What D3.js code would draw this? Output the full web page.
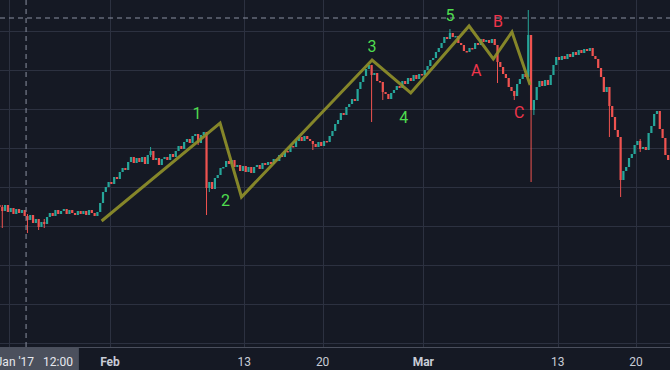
<!DOCTYPE html>
<html>
<head>
<meta charset="utf-8">
<script src="https://d3js.org/d3.v7.min.js"></script>
<style>
  html, body { margin: 0; padding: 0; background: #151924; overflow: hidden; }
  svg { display: block; }
</style>
</head>
<body>
<svg id="chart"></svg>
<script>
// 6h candles starting 22 Jan 2017 00:00 UTC, each open = previous close
const startTime = Date.UTC(2017, 0, 22);
const candleHours = 6;
const firstOpen = 1145;
const closes = [
  1143, 1139, 1145, 1138, 1142, 1136, 1141, 1137, 1140, 1134,
  1130, 1135, 1127, 1131, 1123, 1128, 1126, 1133, 1137, 1134,
  1140, 1136, 1139, 1141, 1136, 1140, 1137, 1135, 1139, 1136,
  1139, 1135, 1140, 1137, 1134, 1138, 1147, 1158, 1163, 1168,
  1166, 1173, 1171, 1178, 1182, 1180, 1188, 1193, 1187, 1192,
  1188, 1193, 1186, 1195, 1199, 1190, 1192, 1185, 1191, 1193,
  1190, 1196, 1193, 1199, 1204, 1201, 1208, 1211, 1207, 1214,
  1216, 1207, 1215, 1218, 1162, 1168, 1161, 1172, 1175, 1182,
  1183, 1189, 1186, 1190, 1183, 1185, 1179, 1184, 1178, 1183,
  1177, 1183, 1185, 1181, 1187, 1185, 1188, 1186, 1191, 1189,
  1195, 1193, 1199, 1198, 1204, 1203, 1209, 1213, 1209, 1214,
  1211, 1209, 1206, 1203, 1208, 1204, 1209, 1208, 1214, 1219,
  1226, 1230, 1237, 1235, 1243, 1246, 1251, 1249, 1261, 1268,
  1274, 1281, 1285, 1275, 1277, 1269, 1268, 1258, 1256, 1251,
  1257, 1260, 1264, 1262, 1269, 1266, 1272, 1269, 1275, 1271,
  1276, 1275, 1280, 1284, 1290, 1292, 1298, 1302, 1307, 1313,
  1311, 1317, 1313, 1314, 1307, 1305, 1299, 1298, 1302, 1301,
  1307, 1305, 1311, 1308, 1310, 1307, 1311, 1305, 1288, 1283,
  1276, 1272, 1263, 1259, 1254, 1266, 1271, 1276, 1273, 1315,
  1240, 1250, 1263, 1269, 1264, 1270, 1265, 1275, 1285, 1293,
  1290, 1294, 1291, 1296, 1293, 1298, 1295, 1300, 1297, 1301,
  1299, 1302, 1294, 1291, 1282, 1273, 1258, 1263, 1244, 1233,
  1220, 1213, 1170, 1179, 1183, 1192, 1196, 1205, 1209, 1201,
  1203, 1200, 1217, 1224, 1236, 1239, 1221, 1212, 1195, 1190
];

// candles with visible wicks (index, high, low)
const wickIndex = [1, 10, 14, 16, 54, 71, 74, 75, 112, 133, 137, 161, 178, 184, 189, 190, 191, 218, 222, 229];
const wickHigh  = [1145, 1136, 1131, 1131, 1203, 1216, 1218, 1168, 1209, 1285, 1268, 1321, 1305, 1259, 1340, 1315, 1250, 1263, 1213, 1211];
const wickLow   = [1122, 1117, 1120, 1122, 1193, 1205, 1135, 1158, 1200, 1228, 1250, 1313, 1267, 1250, 1273, 1168, 1235, 1213, 1153, 1198];

// Elliott wave points
const waveDates  = ["2017-01-31T06:00Z", "2017-02-10T20:00Z", "2017-02-12T18:00Z", "2017-02-24T10:00Z",
                    "2017-02-27T21:00Z", "2017-03-05T02:00Z", "2017-03-07T06:00Z", "2017-03-08T22:00Z",
                    "2017-03-10T13:00Z"];
const wavePrices = [1129, 1227, 1153, 1290, 1257, 1324, 1291, 1318, 1265];
const waveLabels = ["", "1", "2", "3", "4", "5", "A", "B", "C"];

// axis
const gridPrices = [1319, 1280, 1241, 1202, 1163, 1124, 1085, 1046, 1007];
const tickDates  = ["2017-01-23", "2017-02-01", "2017-02-13", "2017-02-20", "2017-03-01", "2017-03-13", "2017-03-20"];
const tickLabels = ["23", "Feb", "13", "20", "Mar", "13", "20"];

const crosshairDate = "2017-01-24T12:00Z";
const crosshairPrice = 1332;
const crosshairText = "24 Jan '17   12:00";

// label placement relative to wave point (px)
const labelOffsets = [[0, 0], [-23, -10], [-16, 3], [0, -14], [-7, 24], [-19, -11], [-17, 11], [-14, -11], [-11, 27]];

const width = 670, height = 370, plotBottom = 347;
const upColor = "#26a69a", downColor = "#ef5350";
const font = "Roboto, 'Noto Sans', sans-serif";

const svg = d3.select("#chart").attr("width", width).attr("height", height);
svg.append("rect").attr("width", width).attr("height", height).attr("fill", "#151924");

const x = d3.scaleUtc()
  .domain([new Date("2017-02-01T00:00Z"), new Date("2017-03-20T00:00Z")])
  .range([110, 636]);
const y = d3.scaleLinear().domain([1003, 1350]).range([plotBottom, 0]);

// build candles
const hour = 3600 * 1000;
const candles = closes.map((c, i) => {
  const o = i === 0 ? firstOpen : closes[i - 1];
  const t = startTime + i * candleHours * hour;
  const w = wickIndex.indexOf(i);
  return {
    t: new Date(t + candleHours * hour / 2),
    o: o, c: c,
    h: w >= 0 ? wickHigh[w] : Math.max(o, c),
    l: w >= 0 ? wickLow[w] : Math.min(o, c)
  };
});

// grid
const grid = svg.append("g");
grid.selectAll(".hgrid").data(gridPrices).enter().append("line")
  .attr("x1", 0).attr("x2", width)
  .attr("y1", d => Math.round(y(d)) + 0.5).attr("y2", d => Math.round(y(d)) + 0.5)
  .attr("stroke", "#2c3140").attr("stroke-width", 1);
grid.selectAll(".vgrid").data(tickDates).enter().append("line")
  .attr("x1", d => Math.round(x(new Date(d + "T00:00Z"))) + 0.5)
  .attr("x2", d => Math.round(x(new Date(d + "T00:00Z"))) + 0.5)
  .attr("y1", 0).attr("y2", plotBottom)
  .attr("stroke", "#2c3140").attr("stroke-width", 1);

// crosshair horizontal
svg.append("line")
  .attr("x1", 0).attr("x2", width)
  .attr("y1", y(crosshairPrice)).attr("y2", y(crosshairPrice))
  .attr("stroke", "#8a90a0").attr("stroke-dasharray", "5,4").attr("stroke-width", 1);

// candles
const bodyW = 2.2;
const cg = svg.append("g");
cg.selectAll(".wick").data(candles).enter().append("line")
  .attr("x1", d => x(d.t)).attr("x2", d => x(d.t))
  .attr("y1", d => y(d.h)).attr("y2", d => y(d.l))
  .attr("stroke", d => d.c >= d.o ? upColor : downColor)
  .attr("stroke-width", 1);
cg.selectAll(".body").data(candles).enter().append("rect")
  .attr("x", d => x(d.t) - bodyW / 2)
  .attr("width", bodyW)
  .attr("y", d => y(Math.max(d.o, d.c)))
  .attr("height", d => Math.max(1.5, Math.abs(y(d.o) - y(d.c))))
  .attr("fill", d => d.c >= d.o ? upColor : downColor);

// Elliott wave
const wave = waveDates.map((d, i) => ({ t: new Date(d), p: wavePrices[i], label: waveLabels[i], off: labelOffsets[i] }));
svg.append("path")
  .datum(wave)
  .attr("fill", "none")
  .attr("stroke", "#8f8f2a")
  .attr("stroke-opacity", 0.92)
  .attr("stroke-width", 3)
  .attr("d", d3.line().x(d => x(d.t)).y(d => y(d.p)));

svg.selectAll(".wlabel").data(wave.filter(d => d.label)).enter().append("text")
  .attr("x", d => x(d.t) + d.off[0])
  .attr("y", d => y(d.p) + d.off[1])
  .attr("text-anchor", "middle")
  .attr("dominant-baseline", "central")
  .attr("font-family", font)
  .attr("font-size", 16)
  .attr("fill", d => /[0-9]/.test(d.label) ? "#4fdc4f" : "#f0354b")
  .text(d => d.label);

// crosshair vertical
const cx = x(new Date(crosshairDate));
svg.append("line")
  .attr("x1", cx).attr("x2", cx)
  .attr("y1", 0).attr("y2", plotBottom)
  .attr("stroke", "#8a90a0").attr("stroke-dasharray", "5,4").attr("stroke-width", 1);

// time axis
svg.append("line")
  .attr("x1", 0).attr("x2", width).attr("y1", plotBottom + 0.5).attr("y2", plotBottom + 0.5)
  .attr("stroke", "#4a4f5d");

// crosshair time label, measured first so ticks underneath can be hidden
const lab = svg.append("g");
const labText = lab.append("text")
  .attr("x", cx).attr("y", 362)
  .attr("text-anchor", "middle")
  .attr("dominant-baseline", "central")
  .attr("font-family", font)
  .attr("font-size", 12)
  .attr("fill", "#e6e8ee")
  .style("white-space", "pre")
  .text(crosshairText);
const tw = labText.node().getComputedTextLength();
const boxL = cx - tw / 2 - 6, boxR = cx + tw / 2 + 6;
lab.insert("rect", "text")
  .attr("x", boxL).attr("y", plotBottom + 1)
  .attr("width", boxR - boxL).attr("height", height - plotBottom - 1)
  .attr("fill", "#4b505d");

const ticks = tickDates.map((d, i) => ({ x: x(new Date(d + "T00:00Z")), label: tickLabels[i] }))
  .filter(d => d.x > boxR + 12);
svg.insert("g", "g:last-of-type").selectAll("text").data(ticks).enter().append("text")
  .attr("x", d => d.x)
  .attr("y", 362)
  .attr("text-anchor", "middle")
  .attr("dominant-baseline", "central")
  .attr("font-family", font)
  .attr("font-size", 12)
  .attr("font-weight", d => /[A-Za-z]/.test(d.label) ? 700 : 400)
  .attr("fill", "#c8ccd6")
  .text(d => d.label);
</script>
</body>
</html>
